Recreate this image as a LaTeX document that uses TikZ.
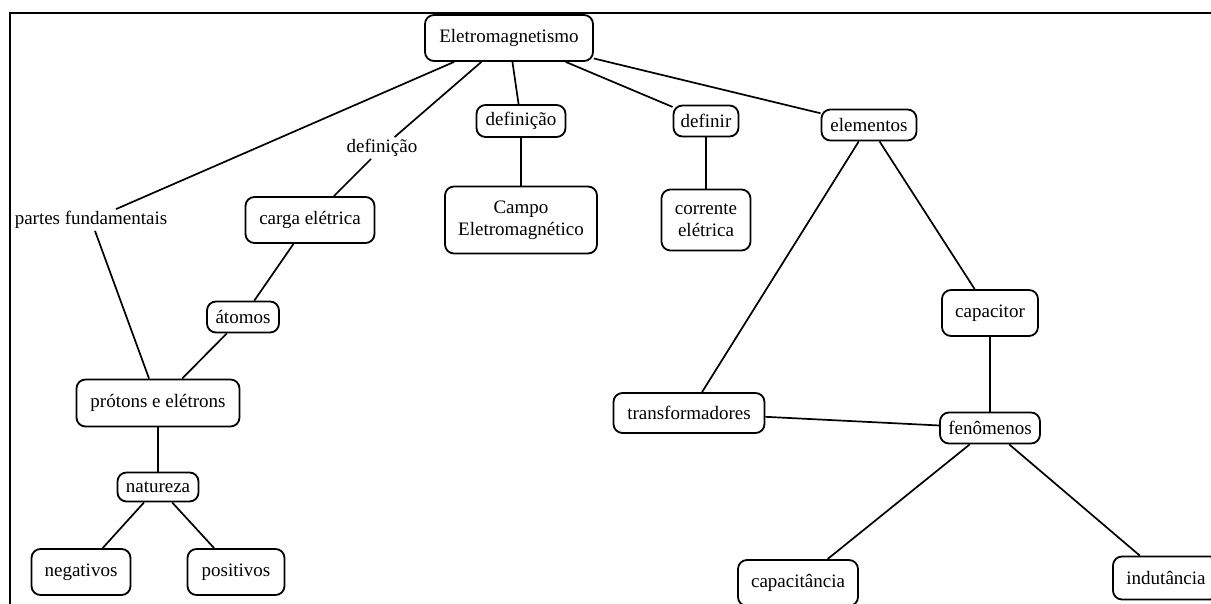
\documentclass[tikz,border=0pt]{standalone}
\usepackage{fontspec}
\setmainfont{Liberation Serif}
\begin{document}
\begin{tikzpicture}[x=1pt,y=-1pt,
  cbox/.style={draw, rounded corners=9pt, line width=1.8pt, inner sep=0pt, align=center, font=\fontsize{19}{22}\selectfont},
  lbl/.style={inner sep=2pt, font=\fontsize{19}{22}\selectfont},
  conn/.style={line width=1.7pt}]
\useasboundingbox (0,0) rectangle (1211,604);
\fill[white] (0,0) rectangle (1211,604);
\draw[line width=2.2pt] (10,13) rectangle (1240,640);
% top
\node[cbox, minimum width=168pt, minimum height=46pt] (em) at (509,38) {Eletromagnetismo};
\node[cbox, minimum width=89pt, minimum height=32pt] (def1) at (521,121) {definição};
\node[cbox, minimum width=152pt, minimum height=67pt] (campo) at (521,220) {Campo\\Eletromagnético};
\node[cbox, minimum width=65pt, minimum height=31pt] (definir) at (706,121) {definir};
\node[cbox, minimum width=89pt, minimum height=61pt] (corrente) at (706,220) {corrente\\elétrica};
% right
\node[cbox, minimum width=95pt, minimum height=31pt] (elem) at (869,125) {elementos};
\node[cbox, minimum width=96pt, minimum height=46pt] (capacitor) at (990,313) {capacitor};
\node[cbox, minimum width=151pt, minimum height=40pt] (transf) at (689,413) {transformadores};
\node[cbox, minimum width=100pt, minimum height=31pt] (fen) at (990,428) {fenômenos};
\node[cbox, minimum width=120pt, minimum height=46pt] (capac) at (798,583) {capacitância};
\node[cbox, minimum width=106pt, minimum height=43pt] (indut) at (1166,578) {indutância};
% left
\node[lbl] (partes) at (91,220) {partes fundamentais};
\node[lbl] (def2) at (382,148) {definição};
\node[cbox, minimum width=129pt, minimum height=46pt] (carga) at (310,220) {carga elétrica};
\node[cbox, minimum width=72pt, minimum height=31pt] (atomos) at (243,317) {átomos};
\node[cbox, minimum width=163pt, minimum height=47pt] (protons) at (158,403) {prótons e elétrons};
\node[cbox, minimum width=81pt, minimum height=29pt] (natureza) at (158,487) {natureza};
\node[cbox, minimum width=99pt, minimum height=46pt] (neg) at (81,572) {negativos};
\node[cbox, minimum width=97pt, minimum height=46pt] (pos) at (236,572) {positivos};
% connectors
\draw[conn] (em) -- (partes);
\draw[conn] (em) -- (def2);
\draw[conn] (def2) -- (carga);
\draw[conn] (em) -- (def1);
\draw[conn] (def1) -- (campo);
\draw[conn] (em) -- (definir);
\draw[conn] (definir) -- (corrente);
\draw[conn] (em) -- (elem);
\draw[conn] (elem) -- (transf);
\draw[conn] (elem) -- (capacitor);
\draw[conn] (capacitor) -- (fen);
\draw[conn] (transf) -- (fen);
\draw[conn] (fen) -- (capac);
\draw[conn] (fen) -- (indut);
\draw[conn] (carga) -- (atomos);
\draw[conn] (atomos) -- (protons);
\draw[conn] (partes) -- (protons);
\draw[conn] (protons) -- (natureza);
\draw[conn] (natureza) -- (neg);
\draw[conn] (natureza) -- (pos);
\end{tikzpicture}
\end{document}
